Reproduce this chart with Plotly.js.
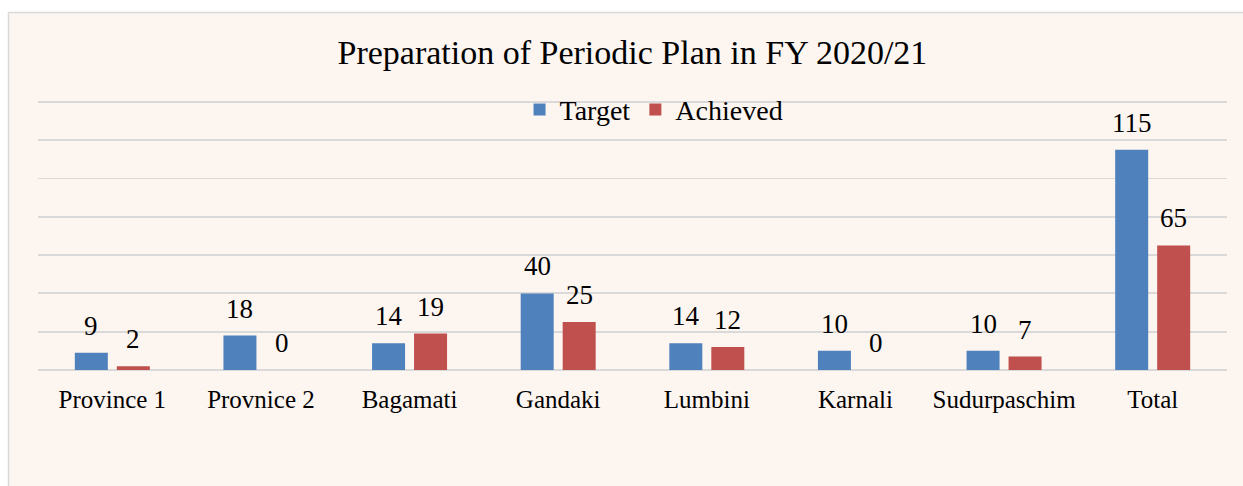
<!DOCTYPE html>
<html>
<head>
<meta charset="utf-8">
<script src="https://cdn.plot.ly/plotly-3.0.1.min.js"></script>
<style>
  html, body { margin: 0; padding: 0; background: #ffffff; }
  #chart { width: 1243px; height: 486px; }
</style>
</head>
<body>
<div id="chart"></div>
<script>
const categories = ["Province 1", "Provnice 2", "Bagamati", "Gandaki", "Lumbini", "Karnali", "Sudurpaschim", "Total"];
const targetValues = [9, 18, 14, 40, 14, 10, 10, 115];
const achievedValues = [2, 0, 19, 25, 12, 0, 7, 65];
const seriesNames = ["Target", "Achieved"];
const chartTitle = "Preparation of Periodic Plan in FY 2020/21";

const FONT = "Liberation Serif, Times New Roman, serif";
const BLUE = "#4F81BD";
const RED = "#C0504D";

const traces = [
  { type: "bar", name: seriesNames[0], x: categories, y: targetValues,
    marker: { color: BLUE, line: { width: 0 } }, hoverinfo: "x+y" },
  { type: "bar", name: seriesNames[1], x: categories, y: achievedValues,
    marker: { color: RED, line: { width: 0 } }, hoverinfo: "x+y" }
];

const annotations = [];
[targetValues, achievedValues].forEach((vals, si) => {
  vals.forEach((v, i) => {
    annotations.push({
      x: categories[i], y: v, xref: "x", yref: "y",
      text: String(v), showarrow: false,
      xshift: si === 0 ? -21 : 21, yshift: 10,
      yanchor: "bottom", xanchor: "center",
      font: { family: FONT, size: 27, color: "#000000" }
    });
  });
});

const PLOT_H = 272;
const layout = {
  width: 1243, height: 486,
  margin: { l: 38, r: 16, t: 486 - 116 - PLOT_H, b: 116, pad: 0 },
  paper_bgcolor: "#ffffff",
  plot_bgcolor: "rgba(0,0,0,0)",
  font: { family: FONT, color: "#000000" },
  title: {
    text: chartTitle,
    font: { family: FONT, size: 34, color: "#000000" },
    x: 0.5088, xanchor: "center",
    yref: "container", y: 1 - 52 / 486, yanchor: "middle"
  },
  barmode: "group",
  bargap: 0.435,
  bargroupgap: 0.214,
  showlegend: true,
  legend: {
    orientation: "h",
    x: 0.405, xanchor: "left",
    y: (370 - 109.7) / PLOT_H, yanchor: "middle",
    bgcolor: "rgba(0,0,0,0)",
    font: { family: FONT, size: 28, color: "#000000" },
    itemwidth: 30
  },
  xaxis: {
    type: "category",
    showgrid: false, zeroline: false, showline: false,
    ticks: "", tickfont: { family: FONT, size: 25, color: "#000000" },
    ticklabelstandoff: 12
  },
  yaxis: {
    range: [0, 142], tick0: 0, dtick: 20,
    showticklabels: false, ticks: "",
    showgrid: true, gridcolor: "#D9D9D9", gridwidth: 1.8,
    zeroline: true, zerolinecolor: "#D9D9D9", zerolinewidth: 1.8,
    showline: false, fixedrange: true
  },
  shapes: [{
    type: "rect", xref: "paper", yref: "paper", layer: "below",
    x0: (8.5 - 38) / 1189, x1: (1260 - 38) / 1189,
    y0: (370 - 520) / PLOT_H, y1: (370 - 12.5) / PLOT_H,
    fillcolor: "#FDF5F0", line: { color: "#D9D9D9", width: 1.5 }
  }],
  annotations: annotations
};

Plotly.newPlot("chart", traces, layout, { displayModeBar: false, staticPlot: true });
</script>
</body>
</html>
